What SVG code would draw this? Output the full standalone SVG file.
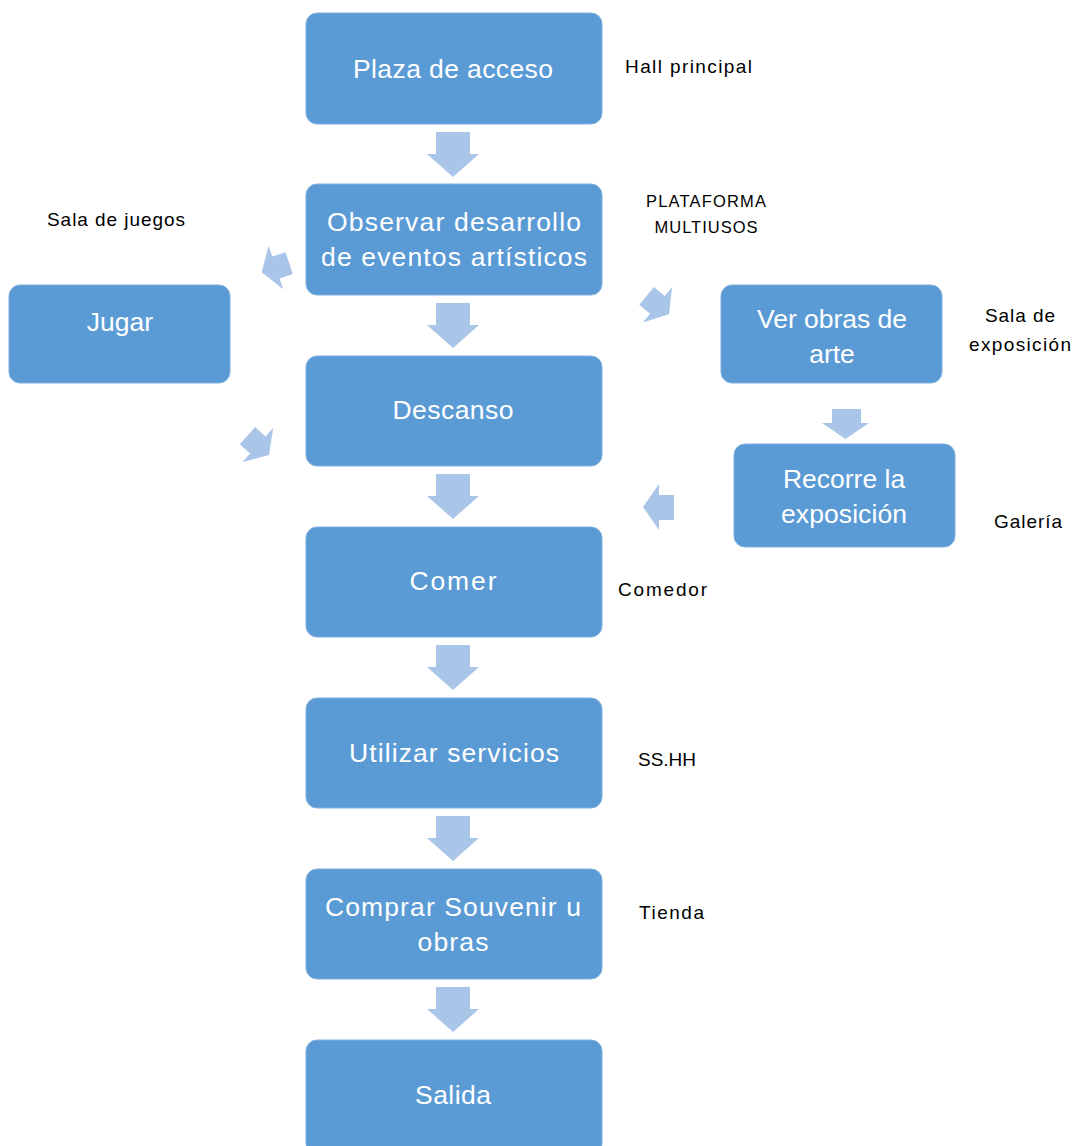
<svg xmlns="http://www.w3.org/2000/svg" width="1075" height="1146" viewBox="0 0 1075 1146">
<style>
.box{fill:#5B9BD5;stroke:#7FB0DE;stroke-width:1}
.bt{fill:#FFFFFF;font-family:"Liberation Sans",Arial,sans-serif;font-size:26.5px;text-anchor:middle}
.lb{fill:#000000;font-family:"Liberation Sans",Arial,sans-serif;font-size:19px}
.sm{font-size:16.5px;text-anchor:middle}
.ar{fill:#A9C6E8}
</style>
<defs>
<polygon id="dn" points="-17,0 17,0 17,22 26,22 0,45 -26,22 -17,22"/>
<polygon id="sa" points="0,0 -15,-23 -15,-11.5 -29,-11.5 -29,11.5 -15,11.5 -15,23"/>
</defs>
<rect width="1075" height="1146" fill="#FFFFFF"/>
<g id="connectors">
<use href="#dn" class="ar" x="453" y="132"/>
<use href="#dn" class="ar" x="453" y="303"/>
<use href="#dn" class="ar" x="453" y="474"/>
<use href="#dn" class="ar" x="453" y="645"/>
<use href="#dn" class="ar" x="453" y="816"/>
<use href="#dn" class="ar" x="453" y="987"/>
<polygon class="ar" points="832,409 861,409 861,423 869,423 845.5,439 822,423 832,423"/>
<polygon class="ar" points="643,507 659,484 659,495 674,495 674,520 659,520 659,530"/>
<use href="#sa" class="ar" transform="translate(261.7,272.3) rotate(161.4)"/>
<use href="#sa" class="ar" transform="translate(669,314.3) rotate(39.5)"/>
<use href="#sa" class="ar" transform="translate(269,455) rotate(42)"/>
</g>
<g id="n-plaza"><rect class="box" x="306" y="13" width="296" height="111" rx="11"/><text class="bt" x="453" y="78" textLength="200">Plaza de acceso</text></g>
<g id="n-observar"><rect class="box" x="306" y="184" width="296" height="111" rx="11"/><text class="bt" x="454" y="231" textLength="254">Observar desarrollo</text><text class="bt" x="454" y="266" textLength="266">de eventos artísticos</text></g>
<g id="n-descanso"><rect class="box" x="306" y="356" width="296" height="110" rx="11"/><text class="bt" x="453" y="419" textLength="121">Descanso</text></g>
<g id="n-comer"><rect class="box" x="306" y="527" width="296" height="110" rx="11"/><text class="bt" x="453" y="590" textLength="87">Comer</text></g>
<g id="n-utilizar"><rect class="box" x="306" y="698" width="296" height="110" rx="11"/><text class="bt" x="454" y="762" textLength="210">Utilizar servicios</text></g>
<g id="n-comprar"><rect class="box" x="306" y="869" width="296" height="110" rx="11"/><text class="bt" x="453" y="916" textLength="256">Comprar Souvenir u</text><text class="bt" x="453" y="951" textLength="71">obras</text></g>
<g id="n-salida"><rect class="box" x="306" y="1040" width="296" height="115" rx="11"/><text class="bt" x="453" y="1104" textLength="76">Salida</text></g>
<g id="n-jugar"><rect class="box" x="9" y="285" width="221" height="98" rx="11"/><text class="bt" x="120" y="331">Jugar</text></g>
<g id="n-ver"><rect class="box" x="721" y="285" width="221" height="98" rx="11"/><text class="bt" x="832" y="328" textLength="150">Ver obras de</text><text class="bt" x="832" y="363">arte</text></g>
<g id="n-recorre"><rect class="box" x="734" y="444" width="221" height="103" rx="11"/><text class="bt" x="844" y="488">Recorre la</text><text class="bt" x="844" y="523" textLength="126">exposición</text></g>
<g id="labels">
<text class="lb" x="625" y="73" textLength="127">Hall principal</text>
<text class="lb" x="47" y="226" textLength="138">Sala de juegos</text>
<text class="lb sm" x="706" y="207" textLength="120">PLATAFORMA</text>
<text class="lb sm" x="706" y="233" textLength="103">MULTIUSOS</text>
<text class="lb" x="1020" y="322" text-anchor="middle" textLength="70">Sala de</text>
<text class="lb" x="1020" y="351" text-anchor="middle" textLength="102">exposición</text>
<text class="lb" x="994" y="528" textLength="68">Galería</text>
<text class="lb" x="618" y="596" textLength="89">Comedor</text>
<text class="lb" x="638" y="766">SS.HH</text>
<text class="lb" x="639" y="919" textLength="65">Tienda</text>
</g>
</svg>
